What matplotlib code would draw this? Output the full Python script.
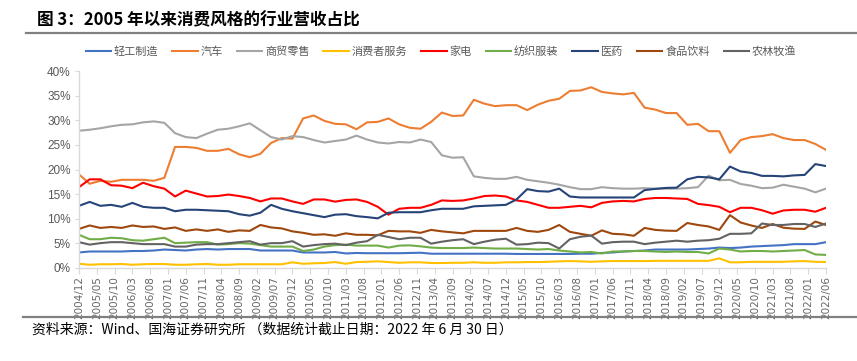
import matplotlib
matplotlib.use("Agg")
import matplotlib.pyplot as plt
from matplotlib import font_manager
from matplotlib.lines import Line2D
import numpy as np

# ---------------- data (percent of revenue, quarterly 2004/12 .. 2022/06) ----------------
series_names = ["轻工制造", "汽车", "商贸零售", "消费者服务", "家电", "纺织服装", "医药", "食品饮料", "农林牧渔"]

light_industry = [3.1, 3.3, 3.3, 3.3, 3.3, 3.4, 3.4, 3.5, 3.7, 3.6, 3.5, 3.7, 3.8, 3.7, 3.8, 3.8, 3.8, 3.5, 3.5, 3.5, 3.5, 3.1, 3.1, 3.1,
                  3.2, 2.9, 3.0, 2.95, 2.95, 2.95, 2.95, 3.0, 3.05, 2.85, 2.85, 2.85, 2.85, 2.85, 2.85, 2.85, 2.85, 2.8, 2.8, 2.8, 2.8, 2.8, 2.8,
                  2.85, 2.85, 3.0, 3.1, 3.3, 3.4, 3.5, 3.7, 3.7, 3.7, 3.7, 3.8, 3.9, 4.1, 4.0, 4.1, 4.3, 4.4, 4.5, 4.6, 4.8, 4.8, 4.8, 5.2]
auto = [19.0, 17.1, 17.7, 17.5, 17.9, 17.9, 17.9, 17.7, 18.3, 24.6, 24.6, 24.4, 23.8, 23.8, 24.2, 23.1, 22.5, 23.2, 25.4, 26.4, 26.3, 30.4, 31.0, 29.9,
        29.3, 29.2, 28.2, 29.6, 29.7, 30.4, 29.2, 28.5, 28.3, 29.7, 31.6, 30.9, 31.0, 34.2, 33.4, 32.9, 33.1, 33.1, 32.1, 33.2, 34.0, 34.4, 36.0,
        36.1, 36.75, 35.8, 35.5, 35.3, 35.6, 32.6, 32.2, 31.5, 31.5, 29.1, 29.3, 27.8, 27.8, 23.4, 26.0, 26.6, 26.8, 27.2, 26.4, 26.0, 26.0, 25.2, 24.0]
retail = [27.9, 28.1, 28.4, 28.8, 29.1, 29.2, 29.6, 29.8, 29.5, 27.4, 26.6, 26.4, 27.3, 28.1, 28.3, 28.8, 29.4, 28.0, 26.6, 26.1, 26.8, 26.6, 26.0, 25.5,
          25.8, 26.1, 26.9, 26.1, 25.5, 25.3, 25.6, 25.5, 26.1, 25.6, 22.9, 22.4, 22.5, 18.6, 18.3, 18.1, 18.1, 18.5, 17.9, 17.6, 17.3, 16.9, 16.4,
          16.0, 16.0, 16.4, 16.2, 16.1, 16.1, 16.2, 16.1, 16.1, 16.1, 16.2, 16.4, 18.75, 17.8, 17.9, 17.05, 16.7, 16.2, 16.3, 16.9, 16.5, 16.1, 15.35, 16.1]
consumer_services = [0.8, 0.6, 0.7, 0.7, 0.75, 0.6, 0.7, 0.75, 0.75, 0.6, 0.6, 0.7, 0.75, 0.6, 0.6, 0.7, 0.7, 0.7, 0.7, 0.7, 1.1, 0.8, 0.9, 0.95,
                     1.15, 0.8, 1.15, 1.2, 1.3, 1.15, 1.0, 1.1, 1.1, 0.95, 0.95, 1.0, 1.0, 1.1, 1.0, 1.0, 1.1, 1.1, 1.15, 1.15, 1.2, 1.3, 1.35,
                     1.3, 1.2, 1.3, 1.35, 1.35, 1.35, 1.35, 1.4, 1.4, 1.4, 1.4, 1.4, 1.4, 1.9, 1.1, 1.1, 1.2, 1.2, 1.2, 1.2, 1.3, 1.35, 1.2, 1.15]
appliances = [16.4, 18.0, 18.0, 16.8, 16.7, 16.2, 17.3, 16.6, 16.1, 14.5, 15.7, 15.1, 14.5, 14.6, 14.9, 14.6, 14.2, 13.5, 14.1, 14.1, 13.5, 13.0, 13.9, 13.9,
              13.45, 13.8, 13.9, 13.4, 12.4, 10.8, 12.0, 12.2, 12.2, 12.8, 13.7, 13.6, 13.7, 14.1, 14.6, 14.7, 14.5, 13.7, 13.4, 12.8, 12.2, 12.2, 12.4,
              12.6, 12.3, 13.2, 13.5, 13.6, 13.5, 14.0, 14.2, 14.2, 14.1, 14.0, 13.0, 12.75, 12.4, 11.3, 12.2, 12.2, 11.7, 11.0, 11.65, 11.8, 11.8, 11.4, 12.2]
textiles = [6.7, 5.8, 5.8, 6.1, 6.0, 5.6, 5.5, 5.8, 6.1, 5.0, 5.1, 5.2, 5.2, 4.7, 4.8, 5.0, 4.9, 4.6, 4.3, 4.3, 4.3, 3.4, 3.7, 4.3,
            4.6, 4.7, 4.5, 4.5, 4.5, 4.1, 4.5, 4.55, 4.35, 4.1, 4.0, 4.0, 4.0, 4.1, 4.0, 3.9, 3.9, 3.9, 3.8, 3.7, 3.8, 3.5, 3.3,
            3.1, 3.2, 2.9, 3.3, 3.3, 3.4, 3.4, 3.3, 3.2, 3.3, 3.2, 3.2, 2.9, 3.9, 3.7, 3.3, 3.4, 3.4, 3.3, 3.4, 3.5, 3.6, 2.7, 2.6]
pharma = [12.6, 13.4, 12.6, 12.8, 12.4, 13.2, 12.4, 12.2, 12.2, 11.5, 11.8, 11.8, 11.7, 11.6, 11.5, 10.9, 10.6, 11.2, 12.8, 12.0, 11.5, 11.1, 10.7, 10.3,
          10.8, 10.9, 10.5, 10.3, 10.05, 11.2, 11.3, 11.3, 11.3, 11.7, 12.0, 12.0, 12.0, 12.5, 12.6, 12.7, 12.8, 13.9, 16.0, 15.6, 15.5, 16.1, 14.5,
          14.3, 14.3, 14.3, 14.3, 14.3, 14.3, 15.8, 16.05, 16.25, 16.3, 18.0, 18.5, 18.4, 18.0, 20.6, 19.6, 19.3, 18.7, 18.7, 18.6, 18.8, 18.9, 21.1, 20.7]
food_bev = [7.9, 8.6, 8.1, 8.3, 8.1, 8.6, 8.3, 8.4, 7.9, 8.2, 7.5, 7.8, 7.5, 7.8, 7.3, 7.6, 7.5, 8.7, 8.2, 8.0, 7.4, 7.1, 6.7, 6.8,
            6.5, 7.0, 6.7, 6.7, 6.6, 7.5, 7.4, 7.4, 7.1, 7.7, 7.4, 7.2, 7.0, 7.5, 7.5, 7.5, 7.5, 8.1, 7.5, 7.3, 7.7, 8.7, 7.3,
            6.9, 6.5, 7.6, 6.9, 6.8, 6.5, 8.1, 7.7, 7.55, 7.5, 9.1, 8.7, 8.4, 7.7, 10.7, 9.2, 8.6, 8.1, 8.9, 8.15, 7.95, 7.9, 9.4, 8.7]
agriculture = [5.2, 4.7, 5.0, 5.2, 5.2, 5.0, 4.8, 4.8, 4.8, 4.3, 4.3, 4.7, 4.8, 4.8, 5.0, 5.2, 5.4, 4.7, 5.0, 5.0, 5.4, 4.3, 4.6, 4.8,
               4.9, 4.6, 5.1, 5.4, 6.7, 6.25, 5.8, 6.1, 6.1, 4.9, 5.3, 5.6, 5.8, 4.8, 5.3, 5.7, 5.9, 4.7, 4.8, 5.1, 5.0, 3.9, 5.8,
               6.3, 6.55, 4.9, 5.2, 5.3, 5.3, 4.8, 5.1, 5.3, 5.5, 5.3, 5.5, 5.6, 5.9, 6.9, 6.9, 7.0, 9.0, 8.7, 8.7, 8.9, 8.9, 8.3, 9.0]

tick_labels = ["2004/12", "2005/05", "2005/10", "2006/03", "2006/08", "2007/01", "2007/06", "2007/11",
               "2008/04", "2008/09", "2009/02", "2009/07", "2009/12", "2010/05", "2010/10", "2011/03",
               "2011/08", "2012/01", "2012/06", "2012/11", "2013/04", "2013/09", "2014/02", "2014/07",
               "2014/12", "2015/05", "2015/10", "2016/03", "2016/08", "2017/01", "2017/06", "2017/11",
               "2018/04", "2018/09", "2019/02", "2019/07", "2019/12", "2020/05", "2020/10", "2021/03",
               "2021/08", "2022/01", "2022/06"]
y_ticks = [0, 5, 10, 15, 20, 25, 30, 35, 40]

title_text = "图 3：2005 年以来消费风格的行业营收占比"
source_text = "资料来源：Wind、国海证券研究所 （数据统计截止日期：2022 年 6 月 30 日）"

# ---------------- style ----------------
colors = ["#4472C4", "#ED7D31", "#A5A5A5", "#FFC000", "#FF0000", "#70AD47", "#264478", "#9E480E", "#636363"]
all_series = [light_industry, auto, retail, consumer_services, appliances, textiles, pharma, food_bev, agriculture]

installed = {f.name for f in font_manager.fontManager.ttflist}
cjk = "Noto Sans CJK SC"
narrow = "Liberation Sans Narrow" if "Liberation Sans Narrow" in installed else "DejaVu Sans"
plain = "Liberation Sans" if "Liberation Sans" in installed else "DejaVu Sans"
plt.rcParams["font.family"] = [cjk, "DejaVu Sans"]

W, H = 857, 361
fig = plt.figure(figsize=(W / 100, H / 100), dpi=100)
fig.patch.set_facecolor("white")

# axes placement (pixels)
left_px, right_px, top_px, bottom_px = 79, 826, 71.3, 267.7
ax = fig.add_axes([left_px / W, 1 - bottom_px / H, (right_px - left_px) / W, (bottom_px - top_px) / H])

months_per_point = 3
months_per_tick = 5
x = np.arange(len(auto)) * months_per_point
for name, vals, c in zip(series_names, all_series, colors):
    ax.plot(x, np.array(vals) / 100.0, color=c, lw=1.5, solid_joinstyle="round", label=name)

ax.set_xlim(0, (len(auto) - 1) * months_per_point)
ax.set_ylim(0, 0.40)
ax.set_yticks([v / 100 for v in y_ticks])
ax.set_yticklabels([f"{v}%" for v in y_ticks], fontsize=8.5, color="#595959", family=plain)
ax.set_xticks(np.arange(len(tick_labels)) * months_per_tick)
ax.set_xticklabels(tick_labels, rotation=90, fontsize=7.5, color="#666666", family=narrow)

for s in ["top", "right"]:
    ax.spines[s].set_visible(False)
for s in ["left", "bottom"]:
    ax.spines[s].set_color("#D9D9D9")
    ax.spines[s].set_linewidth(1.0)
ax.tick_params(axis="y", length=3, color="#D9D9D9", pad=3)
ax.tick_params(axis="x", length=4, color="#D9D9D9", pad=2)

# legend
handles = [Line2D([0], [0], color=c, lw=1.5) for c in colors]
leg = fig.legend(handles, series_names, loc="center", bbox_to_anchor=(441 / W, 1 - 51.7 / H),
                 ncol=9, frameon=False, fontsize=8, handlelength=2.3, handletextpad=0.25,
                 columnspacing=1.25, borderpad=0)
for t in leg.get_texts():
    t.set_color("#595959")

# title, rules, footer
fig.text(37 / W, 1 - 20 / H, title_text, fontsize=12, fontweight="bold", va="center", ha="left", color="black")
fig.add_artist(Line2D([26 / W, 1.0], [1 - 32.7 / H, 1 - 32.7 / H], color="#808080", lw=1.6))
fig.add_artist(Line2D([23 / W, 1.0], [1 - 317 / H, 1 - 317 / H], color="#808080", lw=1.6))
fig.text(32 / W, 1 - 330 / H, source_text, fontsize=10, va="center", ha="left", color="black")

fig.savefig("out.png", dpi=100, facecolor="white")
